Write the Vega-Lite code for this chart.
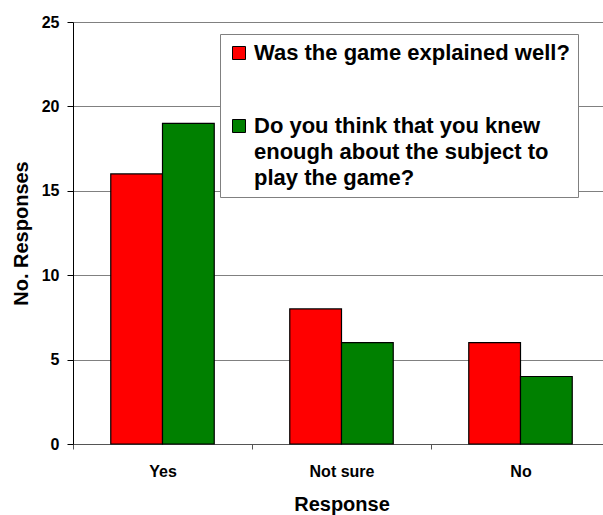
{
  "$schema": "https://vega.github.io/schema/vega-lite/v6.json",
  "width": 530,
  "height": 422,
  "autosize": {"type": "none"},
  "padding": {"left": 73, "top": 22, "right": 0, "bottom": 71},
  "background": "white",
  "data": {
    "values": [
      {"response": "Yes", "question": "Was the game explained well?", "count": 16},
      {"response": "Yes", "question": "Do you think that you knew enough about the subject to play the game?", "count": 19},
      {"response": "Not sure", "question": "Was the game explained well?", "count": 8},
      {"response": "Not sure", "question": "Do you think that you knew enough about the subject to play the game?", "count": 6},
      {"response": "No", "question": "Was the game explained well?", "count": 6},
      {"response": "No", "question": "Do you think that you knew enough about the subject to play the game?", "count": 4}
    ]
  },
  "config": {
    "view": {"stroke": null},
    "font": "Liberation Sans",
    "style": {"guide-label": {"lineHeight": 26}}
  },
  "mark": {"type": "bar", "stroke": "black", "strokeWidth": 1.2},
  "encoding": {
    "x": {
      "field": "response",
      "type": "nominal",
      "sort": ["Yes", "Not sure", "No"],
      "scale": {"paddingInner": 0, "paddingOuter": 0, "range": [0, 537]},
      "axis": {
        "title": "Response",
        "labelAngle": 0,
        "tickBand": "extent",
        "labelFont": "Liberation Sans",
        "labelFontWeight": "bold",
        "labelFontSize": 16,
        "labelColor": "black",
        "labelPadding": 14,
        "tickSize": 5,
        "tickColor": "#555555",
        "domainColor": "#555555",
        "titleFont": "Liberation Sans",
        "titleFontWeight": "bold",
        "titleFontSize": 20,
        "titleColor": "black",
        "titlePadding": 15
      }
    },
    "xOffset": {
      "field": "question",
      "type": "nominal",
      "sort": ["Was the game explained well?", "Do you think that you knew enough about the subject to play the game?"],
      "scale": {"paddingInner": 0, "paddingOuter": 0.73}
    },
    "y": {
      "field": "count",
      "type": "quantitative",
      "scale": {"domain": [0, 25]},
      "axis": {
        "title": "No. Responses",
        "values": [0, 5, 10, 15, 20, 25],
        "grid": true,
        "gridColor": "#808080",
        "gridWidth": 1,
        "domainColor": "black",
        "tickColor": "black",
        "tickSize": 6,
        "labelFont": "Liberation Sans",
        "labelFontWeight": "bold",
        "labelFontSize": 16,
        "labelColor": "black",
        "labelPadding": 8,
        "titleFont": "Liberation Sans",
        "titleFontWeight": "bold",
        "titleFontSize": 20,
        "titleColor": "black",
        "titlePadding": 10
      }
    },
    "color": {
      "field": "question",
      "type": "nominal",
      "sort": ["Was the game explained well?", "Do you think that you knew enough about the subject to play the game?"],
      "scale": {"range": ["#FF0000", "#008000"]},
      "legend": {
        "title": null,
        "orient": "none",
        "legendX": 147,
        "legendY": 12,
        "fillColor": "white",
        "strokeColor": "#808080",
        "padding": 8,
        "symbolType": "square",
        "symbolSize": 169,
        "symbolStrokeColor": "black",
        "symbolStrokeWidth": 1,
        "symbolOpacity": 1,
        "labelFont": "Liberation Sans",
        "labelFontWeight": "bold",
        "labelFontSize": 22,
        "labelColor": "black",
        "labelLimit": 500,
        "labelOffset": 4,
        "rowPadding": 51,
        "labelExpr": "datum.label == 'Was the game explained well?' ? datum.label : ['Do you think that you knew', 'enough about the subject to', 'play the game?']"
      }
    }
  }
}
